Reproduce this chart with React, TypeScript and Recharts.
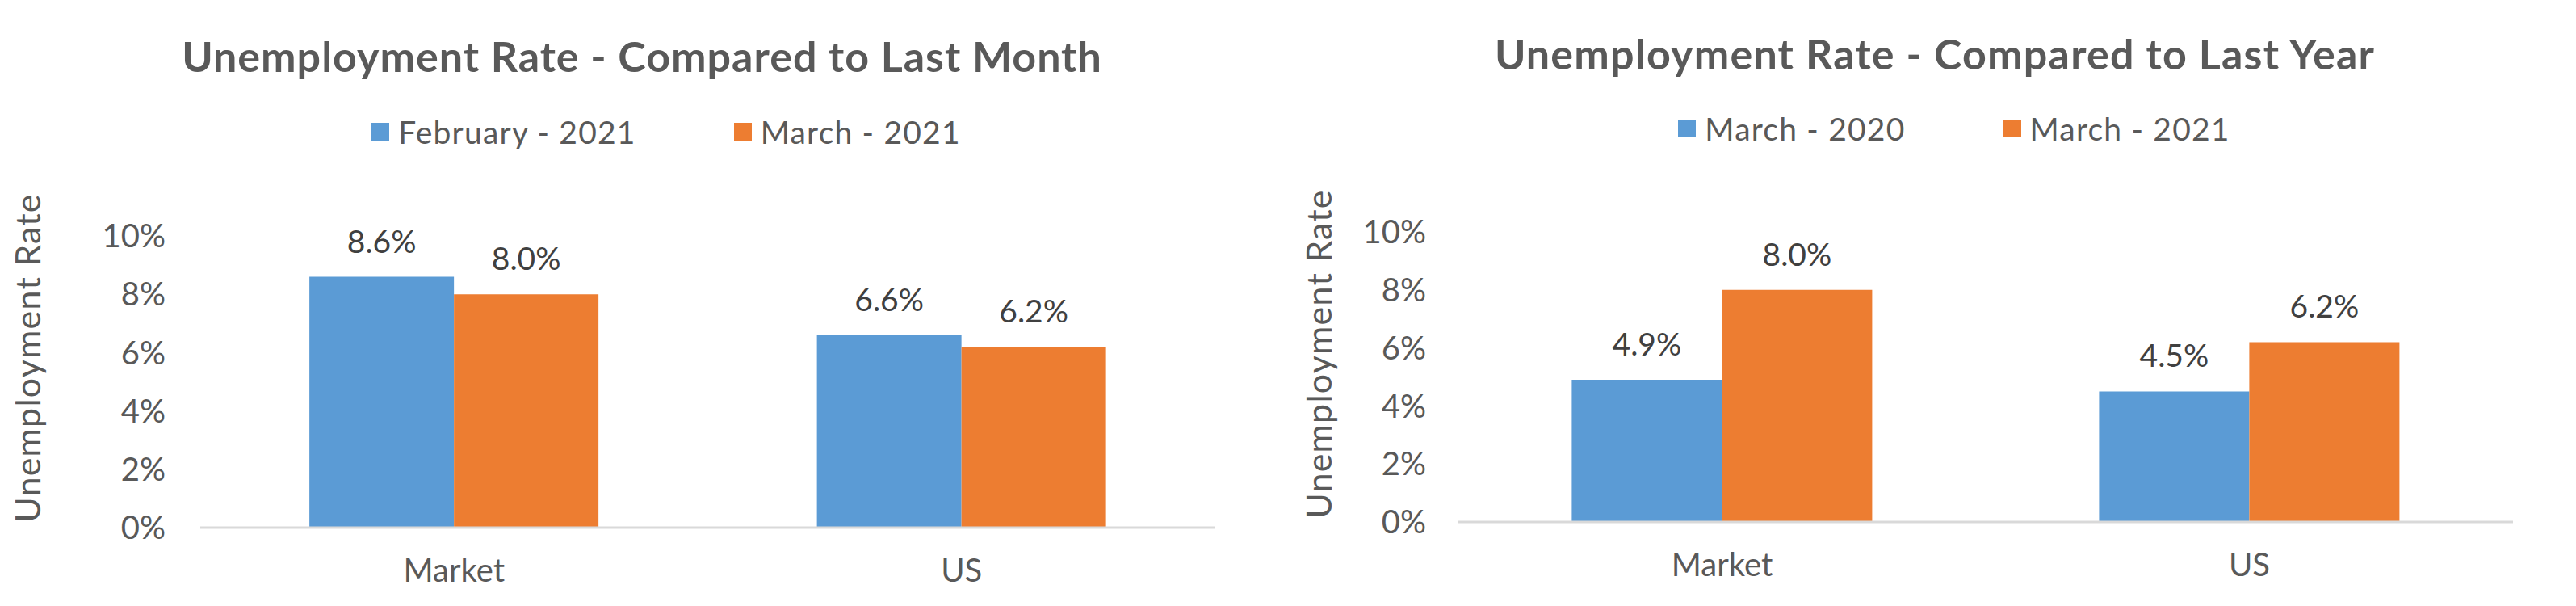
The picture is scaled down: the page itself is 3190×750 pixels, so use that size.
import React from 'react'
import { BarChart, Bar, XAxis, YAxis, Legend, LabelList } from 'recharts'

// categories + values
const categories = ['Market', 'US']
const feb2021 = [8.6, 6.6]
const mar2021 = [8.0, 6.2]
const mar2020 = [4.9, 4.5]
const yTicks = [0, 2, 4, 6, 8, 10]

const BLUE = '#5B9BD5'
const ORANGE = '#ED7D31'
const TEXT = '#595959'
const FONT = 'Lato, "Open Sans", sans-serif'

const monthData = categories.map((name, i) => ({ name, prev: feb2021[i], curr: mar2021[i] }))
const yearData = categories.map((name, i) => ({ name, prev: mar2020[i], curr: mar2021[i] }))

const pct = (v: any) => `${v}%`
const pct1 = (v: any) => `${Number(v).toFixed(1)}%`

// rotated axis title, drawn inside the chart svg
const AxisTitle = ({ cx, cy }: { cx: number; cy: number }) => (
  <text
    x={cx}
    y={cy}
    transform={`rotate(-90, ${cx}, ${cy})`}
    textAnchor="middle"
    dominantBaseline="central"
    fill={TEXT}
    fontSize={43}
    fontFamily={FONT}
    letterSpacing={1.2}
  >
    Unemployment Rate
  </text>
)

const renderLegend = (props: any) => {
  const items = props.payload || []
  return (
    <div style={{ display: 'flex', justifyContent: 'center', alignItems: 'center', height: 40 }}>
      {items.map((it: any, i: number) => (
        <div key={i} style={{ display: 'flex', alignItems: 'center', marginLeft: i ? 121 : 0 }}>
          <span style={{ width: 22, height: 22, background: it.color, marginRight: 11, display: 'inline-block' }} />
          <span style={{ fontSize: 39, lineHeight: '40px', color: TEXT, fontFamily: FONT, letterSpacing: 1.2 }}>
            {it.value}
          </span>
        </div>
      ))}
    </div>
  )
}

interface RateChartProps {
  left: number
  title: string
  titleTop: number
  titleCenter: number
  titleSpacing: number
  data: any[]
  prevName: string
  currName: string
  yWidth: number
  tickGap: number
  top: number
  right: number
  bottom: number
  legendTop: number
  labelX: number
  labelY: number
}

function RateChart(p: RateChartProps) {
  return (
    <div style={{ position: 'absolute', left: p.left, top: 0, width: 1595, height: 750 }}>
      <div
        style={{
          position: 'absolute',
          left: p.titleCenter - 800,
          width: 1600,
          top: p.titleTop,
          textAlign: 'center',
          fontFamily: FONT,
          fontWeight: 700,
          fontSize: 52,
          lineHeight: '52px',
          letterSpacing: p.titleSpacing,
          color: TEXT,
          whiteSpace: 'nowrap',
        }}
      >
        {p.title}
      </div>
      <BarChart
        width={1595}
        height={750}
        data={p.data}
        margin={{ top: p.top, right: p.right, bottom: p.bottom, left: 0 }}
        barCategoryGap="21.5%"
        barGap={0}
      >
        <XAxis
          dataKey="name"
          height={60}
          tickLine={false}
          tickSize={0}
          tickMargin={39}
          axisLine={{ stroke: '#D9D9D9', strokeWidth: 3 }}
          tick={{ fill: TEXT, fontSize: 40, fontFamily: FONT }}
        />
        <YAxis
          width={p.yWidth}
          domain={[0, 10]}
          ticks={yTicks}
          tickFormatter={pct}
          axisLine={false}
          tickLine={false}
          tickSize={0}
          tickMargin={p.tickGap}
          tick={{ fill: TEXT, fontSize: 40, fontFamily: FONT }}
          label={<AxisTitle cx={p.labelX} cy={p.labelY} />}
        />
        <Legend
          verticalAlign="middle"
          layout="horizontal"
          content={renderLegend}
          wrapperStyle={{ top: p.legendTop, left: 0, width: 1650, height: 40 }}
        />
        <Bar dataKey="prev" name={p.prevName} fill={BLUE} isAnimationActive={false}>
          <LabelList dataKey="prev" position="top" offset={30} formatter={pct1} fill="#404040" fontSize={39} fontFamily={FONT} />
        </Bar>
        <Bar dataKey="curr" name={p.currName} fill={ORANGE} isAnimationActive={false}>
          <LabelList dataKey="curr" position="top" offset={30} formatter={pct1} fill="#404040" fontSize={39} fontFamily={FONT} />
        </Bar>
      </BarChart>
    </div>
  )
}

export default function App() {
  return (
    <div style={{ position: 'absolute', left: 0, top: 0, width: 3190, height: 750, background: '#fff', overflow: 'hidden' }}>
      <RateChart
        left={0}
        title="Unemployment Rate - Compared to Last Month"
        titleTop={43}
        titleCenter={795}
        titleSpacing={1}
        data={monthData}
        prevName="February - 2021"
        currName="March - 2021"
        yWidth={248}
        tickGap={43}
        top={292}
        right={90}
        bottom={37}
        legendTop={143}
        labelX={33}
        labelY={443}
      />
      <RateChart
        left={1595}
        title="Unemployment Rate - Compared to Last Year"
        titleTop={40}
        titleCenter={801}
        titleSpacing={1.2}
        data={yearData}
        prevName="March - 2020"
        currName="March - 2021"
        yWidth={211}
        tickGap={40}
        top={287}
        right={78}
        bottom={44}
        legendTop={139}
        labelX={37}
        labelY={438}
      />
    </div>
  )
}
